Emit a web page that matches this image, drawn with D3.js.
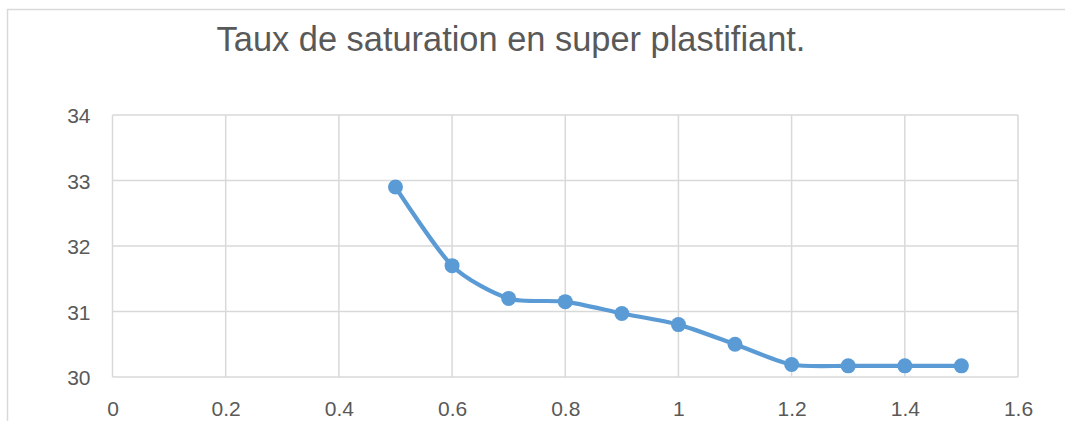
<!DOCTYPE html>
<html>
<head>
<meta charset="utf-8">
<script src="https://cdn.jsdelivr.net/npm/d3@7"></script>
<style>
  html, body { margin: 0; padding: 0; background: #fff; }
  svg { display: block; }
</style>
</head>
<body>
<svg id="chart" width="1065" height="421"></svg>
<script>
// Superplasticizer dosage (x) and measured values (y)
const dosage = [0.5, 0.6, 0.7, 0.8, 0.9, 1.0, 1.1, 1.2, 1.3, 1.4, 1.5];
const values = [32.9, 31.7, 31.2, 31.15, 30.97, 30.8, 30.5, 30.19, 30.17, 30.17, 30.17];
const xTicks = [0, 0.2, 0.4, 0.6, 0.8, 1, 1.2, 1.4, 1.6];
const yTicks = [30, 31, 32, 33, 34];
const title = "Taux de saturation en super plastifiant.";

const svg = d3.select("#chart");
const font = "'Liberation Sans', Arial, sans-serif";
const textColor = "#595959";
const gridColor = "#d9d9d9";
const lineColor = "#5b9bd5";

const plot = { left: 112.5, right: 1018, top: 115, bottom: 377 };

const x = d3.scaleLinear().domain([0, 1.6]).range([plot.left, plot.right]);
const y = d3.scaleLinear().domain([30, 34]).range([plot.bottom, plot.top]);

// Outer chart frame (extends past the visible window on right and bottom)
svg.append("rect")
  .attr("x", 7.5).attr("y", 9.5)
  .attr("width", 1200).attr("height", 600)
  .attr("fill", "#fff")
  .attr("stroke", gridColor).attr("stroke-width", 1.5);

// Title
const t = svg.append("text")
  .attr("x", 511).attr("y", 51)
  .attr("text-anchor", "middle")
  .attr("font-family", font)
  .attr("font-size", 30)
  .attr("fill", textColor)
  .text(title);
// fit to the title width
const tw = t.node().getComputedTextLength();
t.attr("font-size", 30 * 589 / tw);

// Gridlines
const grid = svg.append("g");
grid.selectAll("line.v").data(xTicks).join("line")
  .attr("x1", d => x(d)).attr("x2", d => x(d))
  .attr("y1", plot.top).attr("y2", plot.bottom)
  .attr("stroke", gridColor).attr("stroke-width", 1.5);
grid.selectAll("line.h").data(yTicks).join("line")
  .attr("x1", plot.left).attr("x2", plot.right)
  .attr("y1", d => y(d)).attr("y2", d => y(d))
  .attr("stroke", gridColor).attr("stroke-width", 1.5);

// Axes (labels only; lines are the gridlines)
const xAxis = d3.axisBottom(x).tickValues(xTicks).tickSize(0).tickPadding(0)
  .tickFormat(d => String(+d.toFixed(1)));
const gx = svg.append("g").attr("transform", `translate(0,${plot.bottom})`).call(xAxis);
gx.select(".domain").remove();
gx.selectAll("text")
  .attr("dy", null).attr("y", 39)
  .attr("font-family", font).attr("font-size", 21).attr("fill", textColor);

const yAxis = d3.axisLeft(y).tickValues(yTicks).tickSize(0).tickPadding(0)
  .tickFormat(d3.format("d"));
const gy = svg.append("g").attr("transform", `translate(${plot.left},0)`).call(yAxis);
gy.select(".domain").remove();
gy.selectAll("text")
  .attr("x", -22).attr("dy", "0.36em")
  .attr("font-family", font).attr("font-size", 21).attr("fill", textColor);

// Smoothed series line
const pts = dosage.map((d, i) => [d, values[i]]);
const line = d3.line()
  .x(d => x(d[0])).y(d => y(d[1]))
  .curve(d3.curveCardinal.tension(0.25));
svg.append("path")
  .datum(pts)
  .attr("d", line)
  .attr("fill", "none")
  .attr("stroke", lineColor)
  .attr("stroke-width", 4.2)
  .attr("stroke-linejoin", "round");

// Markers
svg.selectAll("circle.pt").data(pts).join("circle")
  .attr("class", "pt")
  .attr("cx", d => x(d[0])).attr("cy", d => y(d[1]))
  .attr("r", 7.5)
  .attr("fill", lineColor);
</script>
</body>
</html>
